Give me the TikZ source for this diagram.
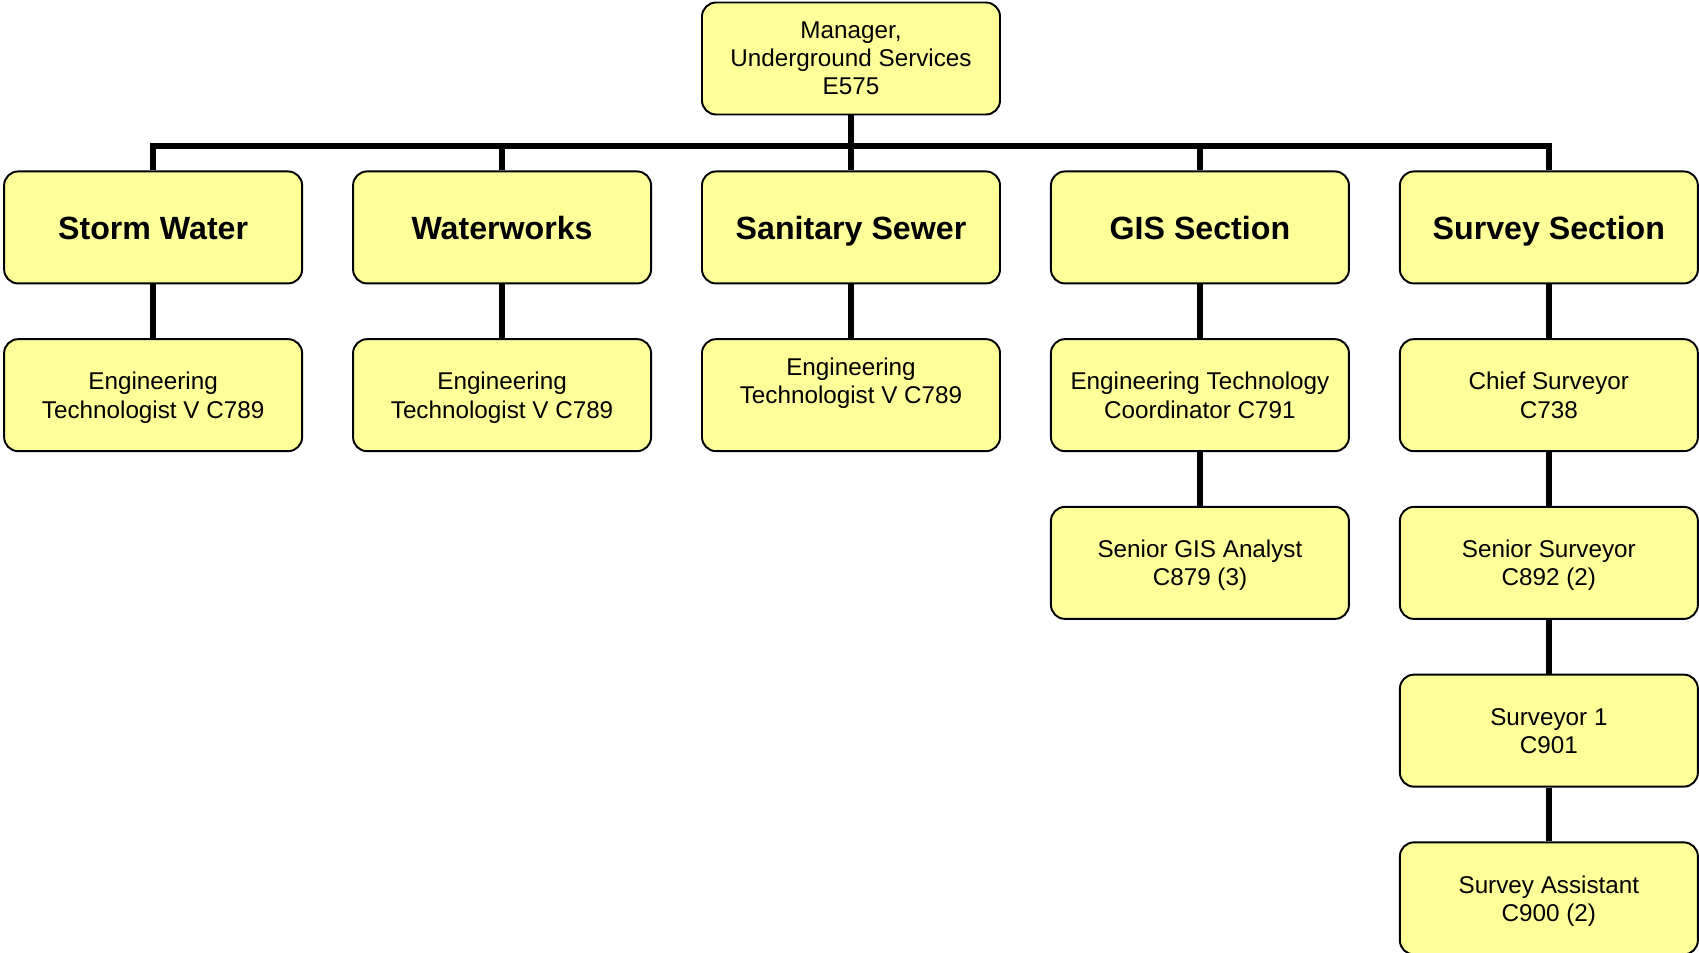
\documentclass[tikz,border=0pt]{standalone}
\usepackage{fontspec}
\setmainfont{Liberation Sans}
\usepackage{xcolor}
\definecolor{boxyellow}{RGB}{255,255,153}
\usepackage{tikz}
\usetikzlibrary{positioning, calc}
\tikzset{
  unit/.style={
    rectangle, rounded corners=8pt, draw=black, line width=1.1pt, fill=boxyellow,
    minimum width=5.96cm, minimum height=2.24cm,
    text height=13.2pt, text depth=0pt,
    align=center, font=\fontsize{18.3}{21}\selectfont\bfseries
  },
  post/.style={
    rectangle, rounded corners=8pt, draw=black, line width=1.1pt, fill=boxyellow,
    minimum width=5.96cm, minimum height=2.24cm, text depth=0pt,
    align=center, font=\fontsize{13.8}{16}\selectfont
  },
  link/.style={line width=3.4pt, color=black},
}
\begin{document}
\begin{tikzpicture}[node distance=1.076cm and 0.98cm]
  \useasboundingbox (0,0) rectangle (33.98,-19.06);

  \node (mgr)    [post] at (17.02,-1.17)       {Manager,\\Underground Services\\E575};
  \node (sani)   [unit, below=1.1cm of mgr]    {Sanitary Sewer};
  \node (water)  [unit, left=of sani]          {Waterworks};
  \node (storm)  [unit, left=of water]         {Storm Water};
  \node (gis)    [unit, right=of sani]         {GIS Section};
  \node (survey) [unit, right=of gis]          {Survey Section};

  \node (stormtech) [post, below=of storm]     {Engineering\\Technologist V C789};
  \node (watertech) [post, below=of water]     {Engineering\\Technologist V C789};
  \node (sanitech)  [post, below=of sani]      {Engineering\\Technologist V C789\\\mbox{}};
  \node (giscoord)  [post, below=of gis]       {Engineering Technology\\Coordinator C791};
  \node (gisanal)   [post, below=of giscoord]  {Senior GIS Analyst\\C879 (3)};
  \node (chief)     [post, below=of survey]    {Chief Surveyor\\C738};
  \node (senior)    [post, below=of chief]     {Senior Surveyor\\C892 (2)};
  \node (surv)      [post, below=of senior]    {Surveyor 1\\C901};
  \node (assist)    [post, below=of surv]      {Survey Assistant\\C900 (2)};

  \coordinate (bus) at (17.02,-2.92);

  \foreach \sec in {storm, water, sani, gis, survey}
    \draw [link] (mgr.south) -- (mgr.south |- bus) -| (\sec.north);

  \draw [link] (storm)  -- (stormtech);
  \draw [link] (water)  -- (watertech);
  \draw [link] (sani)   -- (sanitech);
  \draw [link] (gis)    -- (giscoord);
  \draw [link] (giscoord) -- (gisanal);
  \draw [link] (survey) -- (chief);
  \draw [link] (chief)  -- (senior);
  \draw [link] (senior) -- (surv);
  \draw [link] (surv)   -- (assist);
\end{tikzpicture}
\end{document}
